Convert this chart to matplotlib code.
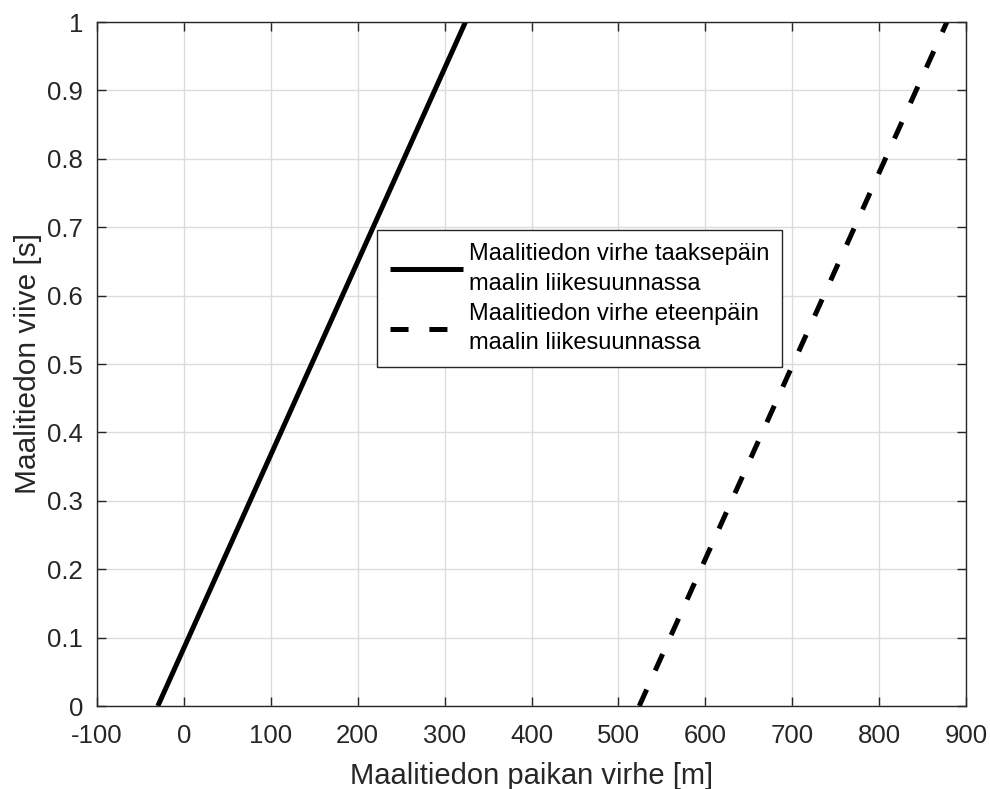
import matplotlib
matplotlib.use("Agg")
import matplotlib.pyplot as plt

plt.rcParams['font.family'] = ['Liberation Sans', 'DejaVu Sans']
plt.rcParams['lines.scale_dashes'] = False

# Target position error [m] at delay 0 s and 1 s
delay = [0.0, 1.0]
error_backward = [-30, 324]
error_forward = [524, 878]

label_backward = "Maalitiedon virhe taaksepäin\nmaalin liikesuunnassa"
label_forward = "Maalitiedon virhe eteenpäin\nmaalin liikesuunnassa"

xticks = [-100, 0, 100, 200, 300, 400, 500, 600, 700, 800, 900]
xticklabels = ["-100", "0", "100", "200", "300", "400", "500", "600", "700", "800", "900"]
yticks = [0, 0.1, 0.2, 0.3, 0.4, 0.5, 0.6, 0.7, 0.8, 0.9, 1]
yticklabels = ["0", "0.1", "0.2", "0.3", "0.4", "0.5", "0.6", "0.7", "0.8", "0.9", "1"]

txt = "#262626"

fig = plt.figure(figsize=(9.9, 7.89), dpi=100)
ax = fig.add_axes([97 / 990, 1 - 706 / 789, (966 - 97) / 990, (706 - 22) / 789])

ax.plot(error_backward, delay, color="black", lw=3.6, solid_capstyle="butt",
        label=label_backward)
ax.plot(error_forward, delay, color="black", lw=3.6, dashes=(13, 15),
        dash_capstyle="butt", label=label_forward)

ax.set_xlim(-100, 900)
ax.set_ylim(0, 1)
ax.set_xticks(xticks)
ax.set_xticklabels(xticklabels)
ax.set_yticks(yticks)
ax.set_yticklabels(yticklabels)
ax.grid(True, color="#dcdcdc", lw=1)
ax.set_axisbelow(True)
ax.tick_params(direction="in", length=6.5, width=1, top=True, right=True,
               labelsize=18.5, colors=txt)
ax.tick_params(axis="x", pad=13)
ax.tick_params(axis="y", pad=10)
for s in ax.spines.values():
    s.set_color(txt)
    s.set_linewidth(1)

ax.set_xlabel("Maalitiedon paikan virhe [m]", fontsize=21, color=txt, labelpad=10)
ax.set_ylabel("Maalitiedon viive [s]", fontsize=21.5, color=txt, labelpad=4)

leg = ax.legend(loc="upper left", bbox_to_anchor=(0.322, 0.696), fontsize=17,
                fancybox=False, framealpha=1, edgecolor=txt, handlelength=3.1,
                handletextpad=0.25, borderpad=0.55, labelspacing=0.35,
                borderaxespad=0)
leg.get_frame().set_linewidth(1)
for t in leg.get_texts():
    t.set_linespacing(1.45)

fig.savefig("out.png", dpi=100)
